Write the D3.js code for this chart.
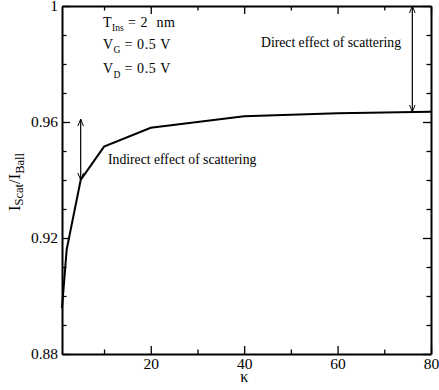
<!DOCTYPE html>
<html>
<head>
<meta charset="utf-8">
<script src="https://cdn.jsdelivr.net/npm/d3@7"></script>
</head>
<body style="margin:0; background:#fff">
<svg id="chart" width="439" height="390"></svg>
<script>
// kappa values and current ratio
const kappa = [1, 2, 5, 10, 20, 40, 60, 80];
const ratio = [0.8958, 0.916, 0.94, 0.9515, 0.958, 0.962, 0.963, 0.9635];

const xMajor = [20, 40, 60, 80];
const xMinor = [10, 30, 50, 70];
const yMajor = [0.88, 0.92, 0.96, 1];
const yMinor = [0.89, 0.90, 0.91, 0.93, 0.94, 0.95, 0.97, 0.98, 0.99];

const serif = '"Liberation Serif"';

const svg = d3.select("#chart"),
  margin = { top: 6, right: 8, bottom: 36, left: 62 },
  width = 439,
  height = 390;

const x = d3.scaleLinear().domain([1, 80]).range([margin.left, width - margin.right]);
const y = d3.scaleLinear().domain([0.88, 1]).range([height - margin.bottom, margin.top]);

const fmtY = (d) => (d === 1 ? "1" : d3.format(".2f")(d));
const fmtX = d3.format("d");

// arrow heads
const defs = svg.append("defs");
defs.append("marker")
  .attr("id", "head")
  .attr("viewBox", "0 0 10 10")
  .attr("refX", 10).attr("refY", 5)
  .attr("markerWidth", 7).attr("markerHeight", 7)
  .attr("markerUnits", "userSpaceOnUse")
  .attr("orient", "auto-start-reverse")
  .append("path")
  .attr("d", "M0,1 L10,5 L0,9")
  .attr("fill", "none")
  .attr("stroke", "#000")
  .attr("stroke-width", 1.4);

// axes, ticks inward on all four sides
const axes = [
  { gen: d3.axisBottom(x), tr: `translate(0,${y.range()[0]})`, major: xMajor, minor: xMinor, fmt: fmtX },
  { gen: d3.axisTop(x), tr: `translate(0,${y.range()[1]})`, major: xMajor, minor: xMinor, fmt: null },
  { gen: d3.axisLeft(y), tr: `translate(${x.range()[0]},0)`, major: yMajor, minor: yMinor, fmt: fmtY },
  { gen: d3.axisRight(y), tr: `translate(${x.range()[1]},0)`, major: yMajor, minor: yMinor, fmt: null },
];

axes.forEach((a) => {
  const genMaj = a.gen.tickValues(a.major).tickSizeInner(-8).tickSizeOuter(0).tickPadding(4)
    .tickFormat(a.fmt ? a.fmt : () => "");
  const g = svg.append("g").attr("transform", a.tr).call(genMaj);
  const genMin = a.gen.tickValues(a.minor).tickSizeInner(-4.5).tickSizeOuter(0).tickFormat(() => "");
  const gm = svg.append("g").attr("transform", a.tr).call(genMin);
  gm.select(".domain").remove();
  [g, gm].forEach((s) => {
    s.selectAll("line").attr("stroke", "#000").attr("stroke-width", 1.3);
    s.selectAll("text").attr("fill", "#000")
      .style("font-family", serif).style("font-size", "15.5px");
  });
  g.select(".domain").attr("stroke", "#000").attr("stroke-width", 2);
});

// data curve
const line = d3.line().x((d, i) => x(kappa[i])).y((d) => y(d));
svg.append("path")
  .datum(ratio)
  .attr("d", line)
  .attr("fill", "none")
  .attr("stroke", "#000")
  .attr("stroke-width", 2)
  .attr("stroke-linejoin", "miter");

// annotation arrows
const arrows = [
  { k: 5, y0: 0.961, y1: 0.94 },
  { k: 76, y0: 1, y1: ratio[ratio.length - 1] },
];
arrows.forEach((a) => {
  svg.append("line")
    .attr("x1", x(a.k)).attr("x2", x(a.k))
    .attr("y1", y(a.y0)).attr("y2", y(a.y1))
    .attr("stroke", "#000").attr("stroke-width", 1.2)
    .attr("marker-start", "url(#head)")
    .attr("marker-end", "url(#head)");
});

const label = (xx, yy, size) =>
  svg.append("text").attr("x", xx).attr("y", yy)
    .style("font-family", serif).style("font-size", size + "px");

label(108, 163.5, 13.7).text("Indirect effect of scattering");
label(261, 46.7, 13.7).text("Direct effect of scattering");

// parameter block
const params = [
  { main: "T", sub: "Ins", rest: "= 2  nm", yy: 26.7, subX: 112, restX: 128 },
  { main: "V", sub: "G", rest: "= 0.5 V", yy: 48.5, subX: 113.5, restX: 124.5 },
  { main: "V", sub: "D", rest: "= 0.5 V", yy: 73.3, subX: 113.5, restX: 124.5 },
];
params.forEach((p) => {
  label(103, p.yy, 14).text(p.main);
  label(p.subX, p.yy + 4.5, 9.5).text(p.sub);
  label(p.restX, p.yy, 14).style("white-space", "pre").style("letter-spacing", "0.6px").text(p.rest);
});

// axis titles
label(x(40), 382, 16).attr("text-anchor", "middle").text("κ");

const yl = label(0, 0, 16.5)
  .attr("transform", "translate(19.5,182) rotate(-90)")
  .attr("text-anchor", "middle");
yl.append("tspan").text("I");
yl.append("tspan").attr("dy", 3).style("font-size", "12.5px").text("Scat");
yl.append("tspan").attr("dy", -3).text("/I");
yl.append("tspan").attr("dy", 4).style("font-size", "12.5px").text("Ball");
</script>
</body>
</html>
